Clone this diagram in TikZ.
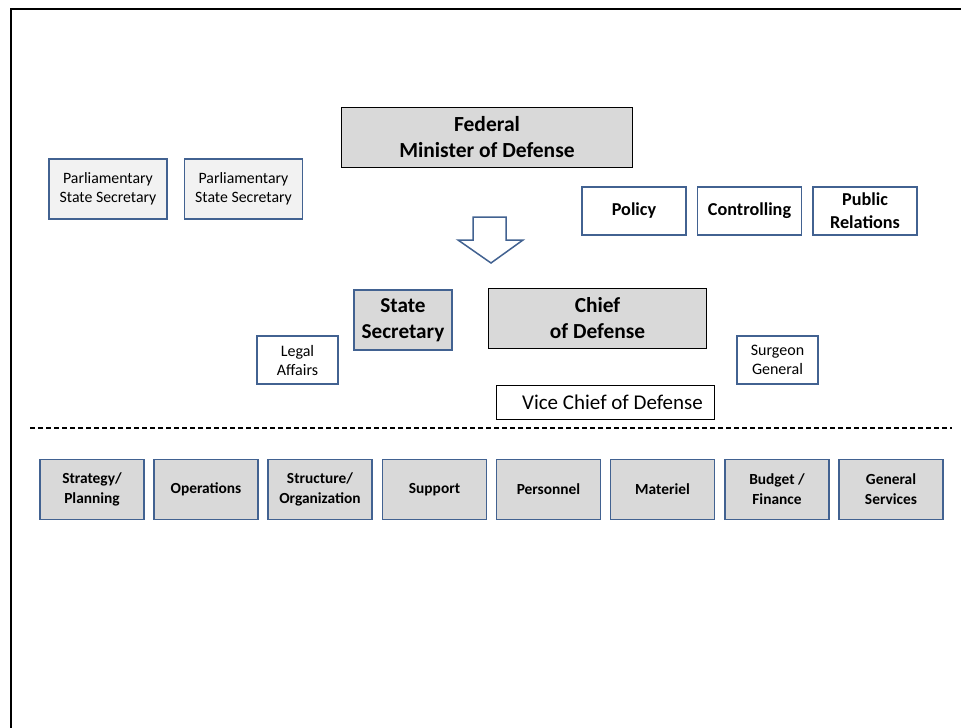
\documentclass[tikz,border=0pt]{standalone}
\usepackage{fontspec}
\setmainfont{Carlito}
\usepackage{xcolor}
\usepackage{tikz}
\usetikzlibrary{positioning}

\definecolor{boxblue}{RGB}{66,98,145}
\definecolor{paleFill}{HTML}{F2F2F2}
\definecolor{officeFill}{HTML}{D9D9D9}

\tikzset{
  orgbox/.style={draw=boxblue, line width=1.6pt, align=center, inner sep=0pt},
  topbox/.style={draw=black, line width=0.9pt, fill=officeFill, align=center, inner sep=0pt,
                 minimum height=60pt, font=\fontsize{21.5}{26}\selectfont\bfseries},
  parlbox/.style={orgbox, fill=paleFill, minimum width=118pt, minimum height=60pt,
                  font=\fontsize{15.8}{19}\selectfont},
  staffbox/.style={orgbox, fill=white, minimum width=104pt, minimum height=48pt,
                   font=\fontsize{18.2}{23}\selectfont\bfseries},
  sidebox/.style={orgbox, fill=white, minimum width=81pt, minimum height=48pt,
                  font=\fontsize{16}{19}\selectfont},
  deptbox/.style={orgbox, fill=officeFill, minimum width=104pt, minimum height=60pt,
                  font=\fontsize{15.4}{20}\selectfont\bfseries}
}

\begin{document}
\begin{tikzpicture}[x=1pt, y=-1pt]
            \useasboundingbox (0,0) rectangle (961,728);

            % Frame
            \draw[line width=2pt] (10.5,728) -- (10.5,9) -- (961,9);

            % Minister level
            \node[topbox, minimum width=291pt] (minister) at (487,137.5) {Federal\\Minister of Defense};
            \node[parlbox] (parlA) at (108,189) {Parliamentary\\State Secretary};
            \node[parlbox] (parlB) at (243.5,189) {Parliamentary\\State Secretary};

            % Staff
            \node[staffbox] (policy) at (634,211) {Policy};
            \node[staffbox] (controlling) at (749.5,211) {Controlling};
            \node[staffbox] (relations) at (865,211) {Public\\Relations};

            % Block arrow
            \draw[boxblue, line width=1.5pt, fill=white, line join=miter]
                (473,217) -- (506,217) -- (506,240) -- (523,240) -- (491,263)
                -- (458,240) -- (473,240) -- cycle;

            % Secretary / Chief level
            \node[orgbox, fill=officeFill, minimum width=98pt, minimum height=60pt,
                  font=\fontsize{21.2}{26}\selectfont\bfseries] (statesec) at (403,320) {State\\Secretary};
            \node[topbox, minimum width=218pt, font=\fontsize{21.4}{26}\selectfont\bfseries] (chief) at (597.5,318.5) {Chief\\of Defense};
            \node[sidebox] (legal) at (297.5,360) {Legal\\Affairs};
            \node[sidebox] (surgeon) at (777.5,360) {Surgeon\\General};
            \node[draw=black, line width=0.9pt, fill=white, minimum width=218pt, minimum height=34pt,
                  inner sep=0pt, font=\fontsize{21}{22}\selectfont] (vice) at (605.5,402.5) {\hspace*{14pt}Vice Chief of Defense};

            % Separator
            \coordinate (sepL) at (30,428);
            \coordinate (sepR) at (952,428);
            \draw[line width=1.3pt, dash pattern=on 5pt off 3pt] (sepL) -- (sepR);

            % Departments
            \node[deptbox] (strategy) at (92,489.5) {Strategy/\\Planning};
            \node[deptbox] (operations) at (206,489.5) {Operations};
            \node[deptbox] (structure) at (320,489.5) {Structure/\\Organization};
            \node[deptbox] (support) at (434.5,489.5) {Support};
            \node[deptbox] (personnel) at (548.5,489.5) {Personnel};
            \node[deptbox] (materiel) at (662.5,489.5) {Materiel};
            \node[deptbox] (budget) at (777,489.5) {Budget /\\Finance};
            \node[deptbox] (services) at (891,489.5) {General\\Services};
        \end{tikzpicture}
\end{document}
